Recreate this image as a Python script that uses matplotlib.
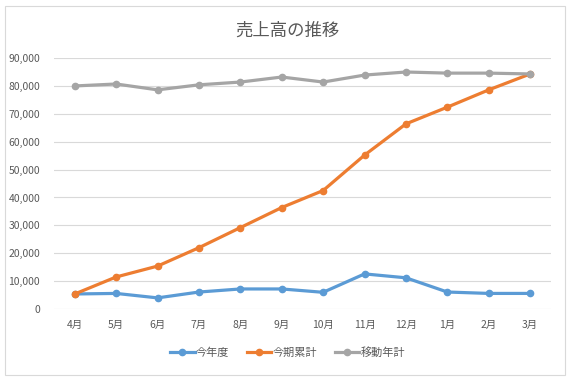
import matplotlib
matplotlib.use("Agg")
import matplotlib.pyplot as plt
from matplotlib.patches import Rectangle
from matplotlib.ticker import FuncFormatter, MultipleLocator

plt.rcParams["font.family"] = ["Noto Sans CJK JP", "DejaVu Sans"]

months = ["4月", "5月", "6月", "7月", "8月", "9月", "10月", "11月", "12月", "1月", "2月", "3月"]
this_year = [5400, 5600, 4000, 6100, 7200, 7200, 6000, 12600, 11200, 6100, 5600, 5600]
cumulative = [5400, 11500, 15400, 22000, 29200, 36400, 42500, 55200, 66400, 72400, 78600, 84300]
moving_year = [80000, 80700, 78600, 80400, 81400, 83200, 81400, 83900, 85000, 84600, 84600, 84300]

series = [
    ("今年度", this_year, "#5B9BD5"),
    ("今期累計", cumulative, "#ED7D31"),
    ("移動年計", moving_year, "#A5A5A5"),
]

fig = plt.figure(figsize=(5.75, 3.82), dpi=100)
ax = fig.add_axes([0.094, 0.191, 0.864, 0.657])

x = list(range(len(months)))
for name, vals, c in series:
    ax.plot(x, vals, "-o", color=c, lw=2.3, ms=4.5, label=name)

ax.set_xlim(-0.5, len(months) - 0.5)
ax.set_ylim(0, 90000)
ax.yaxis.set_major_locator(MultipleLocator(10000))
ax.yaxis.set_major_formatter(FuncFormatter(lambda v, _: f"{int(v):,}"))
ax.set_xticks(x)
ax.set_xticklabels(months)
ax.tick_params(length=0, labelsize=7.5, colors="#595959")
ax.tick_params(axis="y", pad=10)
ax.tick_params(axis="x", pad=8)
ax.grid(axis="y", color="#D9D9D9", lw=0.8)
ax.set_axisbelow(True)
for s in ax.spines.values():
    s.set_visible(False)

fig.text(0.5, 0.921, "売上高の推移", ha="center", va="center", fontsize=12.5, color="#595959")
fig.legend(loc="center", bbox_to_anchor=(0.5, 0.078), ncol=3, frameon=False,
           fontsize=8, labelcolor="#595959", handlelength=2.2, columnspacing=1.6,
           handletextpad=0.1)

fig.patches.append(Rectangle((0.008, 0.018), 0.975, 0.965, transform=fig.transFigure,
                             fill=False, edgecolor="#D9D9D9", lw=0.8))

fig.savefig("out.png", dpi=100)
